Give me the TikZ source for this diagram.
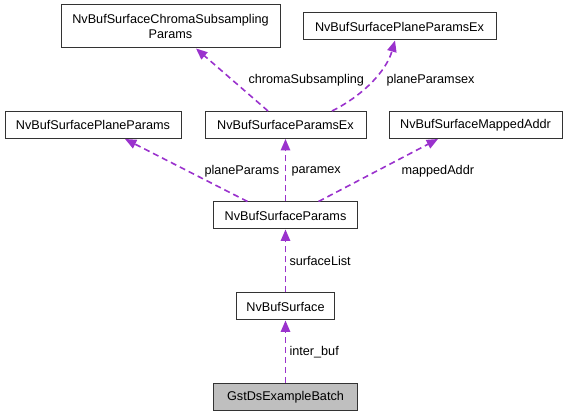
\documentclass[tikz,border=0pt]{standalone}
\usepackage{fontspec}
\setmainfont{Liberation Sans}
\usetikzlibrary{arrows.meta,calc}

\definecolor{usecol}{RGB}{154,50,205}
\definecolor{selfcol}{RGB}{191,191,191}

\tikzset{every picture/.style={line width=0.75pt}}
\tikzset{
  clsbox/.style={draw=black!80, fill=white, inner sep=0pt, minimum height=20.25pt,
    align=center, font=\fontsize{9.5}{11}\selectfont},
  usedge/.style={draw=usecol, line width=1.2pt, dash pattern={on 4.5pt off 3pt},
    -{Triangle[length=8.5pt,width=7pt,fill=usecol]}},
  edgelbl/.style={anchor=west, inner sep=0pt, font=\fontsize{9.5}{11}\selectfont}
}

\begin{document}
\begin{tikzpicture}[x=0.75pt,y=0.75pt,yscale=-1,xscale=1]
        \useasboundingbox (0,0) rectangle (565,416);

        % Class boxes
        \node [clsbox, minimum width=164.25pt, minimum height=32.25pt] (chroma) at (170.5,26.5) {NvBufSurfaceChromaSubsampling\\Params};
        \node [clsbox, minimum width=144.75pt] (planeparamsex) at (399.5,26.5) {NvBufSurfacePlaneParamsEx};
        \node [clsbox, minimum width=132pt] (planeparams) at (93,125) {NvBufSurfacePlaneParams};
        \node [clsbox, minimum width=120.75pt] (paramsex) at (285.5,125) {NvBufSurfaceParamsEx};
        \node [clsbox, minimum width=129.75pt] (mappedaddr) at (475.5,125) {NvBufSurfaceMappedAddr};
        \node [clsbox, minimum width=108pt] (params) at (285.5,215.5) {NvBufSurfaceParams};
        \node [clsbox, minimum width=73.5pt] (surface) at (285.5,306.5) {NvBufSurface};
        \node [clsbox, minimum width=108pt, fill=selfcol] (batch) at (285.5,397) {GstDsExampleBatch};

        % Members
        \draw [usedge] ($(paramsex.north)+(-17.5,0)$) -- ($(chroma.south)+(25.5,0)$);
        \draw [usedge] ($(paramsex.north)+(46.5,0)$) .. controls (362,96) and (386,72) .. ($(planeparamsex.south)+(-4.5,0)$);
        \draw [usedge] ($(params.north)+(-38,0)$) -- ($(planeparams.south)+(32,0)$);
        \draw [usedge] (params.north) -- (params.north |- paramsex.south);
        \draw [usedge] ($(params.north)+(33,0)$) -- ($(mappedaddr.south)+(-37.5,0)$);
        \draw [usedge] (surface.north) -- (params.south);
        \draw [usedge] (batch.north) -- (surface.south);

        % Text Node
        \node [edgelbl] (lblchroma) at (248,80) {chromaSubsampling};
        \node [edgelbl] (lblplaneex) at (386,80) {planeParamsex};
        \node [edgelbl] (lblplane) at (204,171) {planeParams};
        \node [edgelbl] (lblparamex) at (291,171) {paramex};
        \node [edgelbl] (lblmapped) at (401,171) {mappedAddr};
        \node [edgelbl] (lblsurflist) at (289,261) {surfaceList};
        \node [edgelbl] (lblinterbuf) at (289,352) {inter\_buf};

\end{tikzpicture}
\end{document}
